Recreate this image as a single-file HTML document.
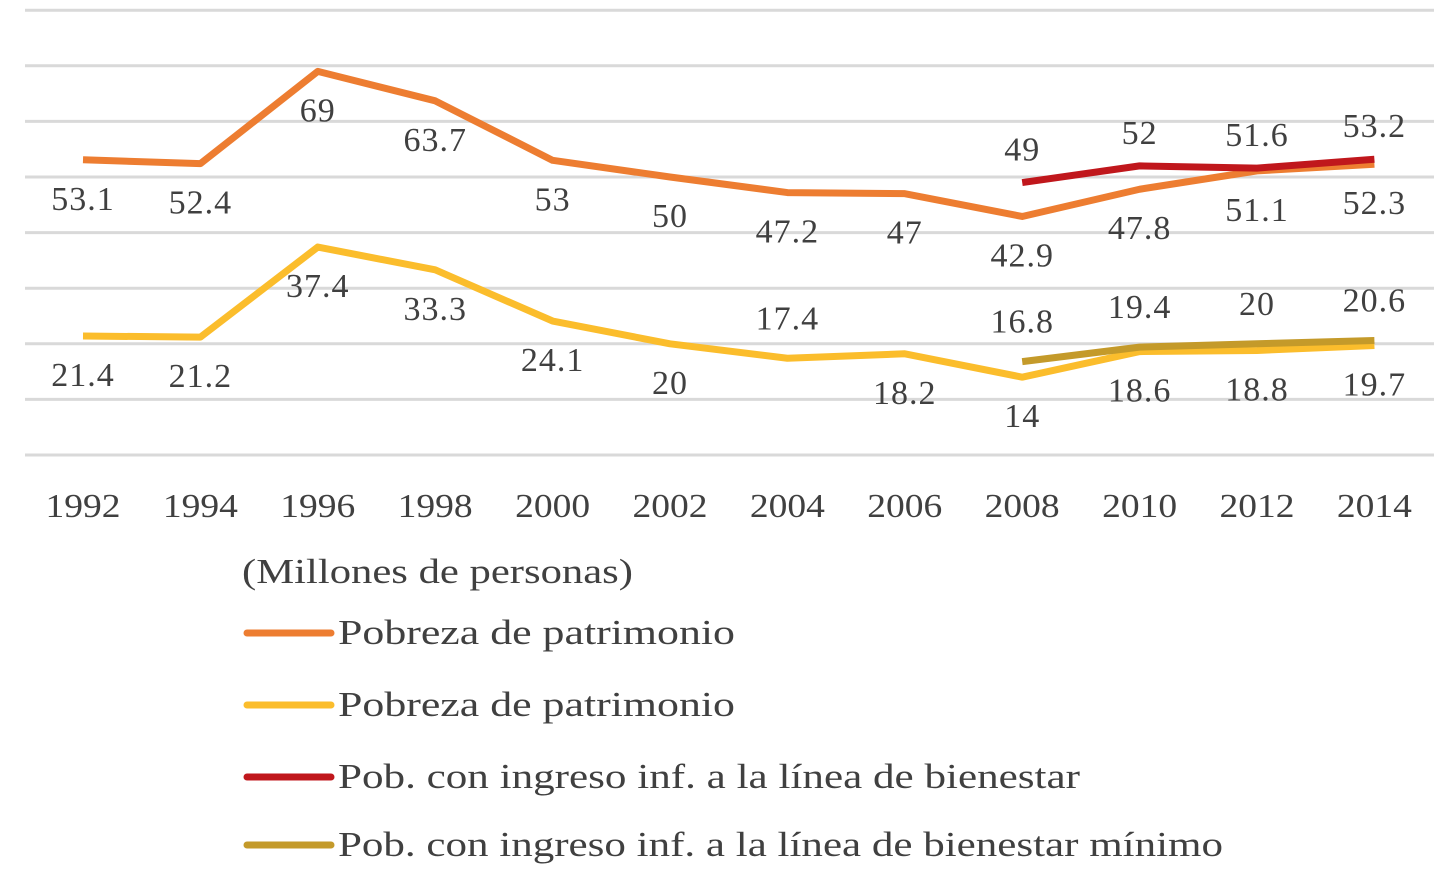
<!DOCTYPE html>
<html><head><meta charset="utf-8"><style>
html,body{margin:0;padding:0;background:#fff;width:1454px;height:889px;overflow:hidden}
svg text{font-family:"Liberation Serif",serif;fill:#404040}
</style></head><body>
<svg id="chart" width="1454" height="889" xmlns="http://www.w3.org/2000/svg">
<g id="grid"></g><g id="series"></g><g id="labels"></g><g id="xaxis"></g>
<text x="242" y="583" font-size="35" textLength="391" lengthAdjust="spacingAndGlyphs">(Millones de personas)</text>
<g id="legend"></g>
</svg>
<script>
const years=["1992","1994","1996","1998","2000","2002","2004","2006","2008","2010","2012","2014"];
const patrimonio=[53.1,52.4,69,63.7,53,50,47.2,47,42.9,47.8,51.1,52.3];
const alimentaria=[21.4,21.2,37.4,33.3,24.1,20,17.4,18.2,14,18.6,18.8,19.7];
const bienestar=[null,null,null,null,null,null,null,null,49,52,51.6,53.2];
const bienestarMin=[null,null,null,null,null,null,null,null,16.8,19.4,20,20.6];
const gridTicks=[0,10,20,30,40,50,60,70,80];
const NS="http://www.w3.org/2000/svg";
const x=i=>83+i*117.4;
const y=v=>455-v*5.56;
function mk(tag,attrs,parent){const e=document.createElementNS(NS,tag);for(const k in attrs)e.setAttribute(k,attrs[k]);document.getElementById(parent).appendChild(e);return e;}
gridTicks.forEach(t=>{const l=mk('line',{x1:25,x2:1434,y1:y(t),y2:y(t),stroke:'#d9d9d9','stroke-width':3},'grid');

});
years.forEach((yr,i)=>{const t=mk('text',{x:x(i)-37.5,y:517,'font-size':34,textLength:75,lengthAdjust:'spacingAndGlyphs'},'xaxis');t.textContent=yr;

});
const series=[
 {d:patrimonio,c:'#ed7d31',off:[39,39,39,39,39,39,39,39,39,39,39,39],n:'line-pobreza-patrimonio'},
 {d:alimentaria,c:'#fbbd2c',off:[39,39,39,39,39,39,-40,39,39,39,39,39],n:'line-pobreza-alimentaria'},
 {d:bienestar,c:'#c0171c',off:[0,0,0,0,0,0,0,0,-33,-33,-33,-33],n:'line-linea-bienestar'},
 {d:bienestarMin,c:'#c49a2a',off:[0,0,0,0,0,0,0,0,-40,-40,-40,-40],n:'line-linea-bienestar-minimo'}];
series.forEach(s=>{let pts=[];s.d.forEach((v,i)=>{if(v!=null)pts.push(x(i)+','+y(v));});
 const p=mk('polyline',{points:pts.join(' '),fill:'none',stroke:s.c,'stroke-width':7,'stroke-linejoin':'round'},'series');
 
 
 s.d.forEach((v,i)=>{if(v==null)return;const t=mk('text',{x:x(i),y:y(v)+s.off[i]+11,'font-size':34,'letter-spacing':1,'text-anchor':'middle'},'labels');t.textContent=v;
 
 });});
const legend=[["Pobreza de patrimonio",'#ed7d31',633,397],["Pobreza de patrimonio",'#fbbd2c',705,397],["Pob. con ingreso inf. a la línea de bienestar",'#c0171c',777,742],["Pob. con ingreso inf. a la línea de bienestar mínimo",'#c49a2a',845,885]];
legend.forEach(l=>{const ln=mk('line',{x1:247,x2:331,y1:l[2],y2:l[2],stroke:l[1],'stroke-width':7,'stroke-linecap':'round'},'legend');
 
 
 const t=mk('text',{x:338,y:l[2]+11,'font-size':35,textLength:l[3],lengthAdjust:'spacingAndGlyphs'},'legend');t.textContent=l[0];
 
 });
</script>
</body></html>
